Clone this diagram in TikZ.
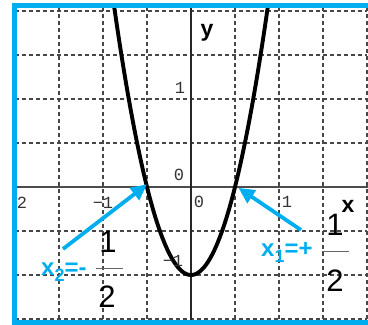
\documentclass[tikz,border=0pt]{standalone}
\usepackage{fontspec}
\setmainfont{Liberation Sans}
\newfontfamily\monof{Liberation Mono}
\usetikzlibrary{arrows.meta}
\definecolor{skyb}{HTML}{00AEEF}
\begin{document}
\begin{tikzpicture}[x=1pt,y=1pt,
  gridline/.style={dash pattern=on 4pt off 3pt, line width=1.1pt, draw=black!72},
  axisline/.style={line width=1.3pt, draw=black!70},
  curve/.style={line width=3.9pt, draw=black, line join=round},
  tick/.style={font=\monof\fontsize{17}{17}\selectfont, text=black!80, inner sep=0pt},
  bigdigit/.style={font=\fontsize{31}{31}\selectfont, text=black, inner sep=0pt},
  axlabel/.style={font=\bfseries\fontsize{23}{23}\selectfont, text=black, inner sep=0pt},
  rootlabel/.style={font=\bfseries\fontsize{24}{24}\selectfont, text=skyb, inner sep=0pt, anchor=base west},
  pointer/.style={line width=3.8pt, draw=skyb, -{Triangle[length=16pt,width=15pt]}},
  fracbar/.style={line width=0.9pt, draw=black!60},
  frame/.style={line width=5pt, draw=skyb}]
\useasboundingbox (0,0) rectangle (368,325);
\begin{scope}[shift={(191,138)}, x=88pt, y=88pt]
  % grid
  \foreach \i in {-2,-1.5,-1,-0.5,0.5,1,1.5,2}
    \draw[gridline] (\i,-1.5) -- (\i,2.03);
  \foreach \j in {-1.5,-1,-0.5,0.5,1,1.5,2}
    \draw[gridline] (-2,\j) -- (2.0,\j);
  % axes
  \draw[axisline] (-2,0) -- (2.02,0);
  \draw[axisline, draw=black!85] (0,-1.55) -- (0,2.05);
  % parabola
  \begin{scope}
    \clip (-2,-1.6) rectangle (2.1,2.04);
    \draw[curve] plot[domain=-0.88:0.88, samples=90, smooth] (\x, {4*\x*\x-1});
  \end{scope}
  \coordinate (r2) at (-0.5,0.03);
  \coordinate (r1) at (0.54,-0.01);
\end{scope}
% tick labels
\node[tick] (tm2) at (22,122) {2};
\node[tick] (tm1) at (103,122) {−1};
\node[tick] (t0x) at (199,123) {0};
\node[tick] (t1x) at (287,123) {1};
\node[tick] (t1y) at (180,237) {1};
\node[tick] (t0y) at (179,150) {0};
\node[tick] (tm1y) at (173,64) {−1};
% axis names
\node[axlabel] (ylab) at (207,292) {y};
\node[axlabel] (xlab) at (348,119) {x};
% root labels
\node[rootlabel] (lab2) at (41,49) {x\raisebox{-6pt}{\fontsize{18}{18}\selectfont 2}=-};
\node[rootlabel] (lab1) at (261,68) {x\raisebox{-6pt}{\fontsize{18}{18}\selectfont 1}=+};
% fractions
\node[bigdigit] (n2) at (108,83) {1};
\node[bigdigit] (d2) at (107,28) {2};
\draw[fracbar] (96,57) -- (123,57);
\node[bigdigit] (n1) at (335,100) {1};
\node[bigdigit] (d1) at (335,44) {2};
\draw[fracbar] (322,74) -- (349,74);
% pointers
\coordinate (p2) at (63,76);
\coordinate (p1) at (301,95);
\draw[pointer] (p2) -- (r2);
\draw[pointer] (p1) -- (r1);
% frame
\draw[frame] (368,319.5) -- (14.5,319.5) -- (14.5,2) -- (368,2);
\end{tikzpicture}
\end{document}
